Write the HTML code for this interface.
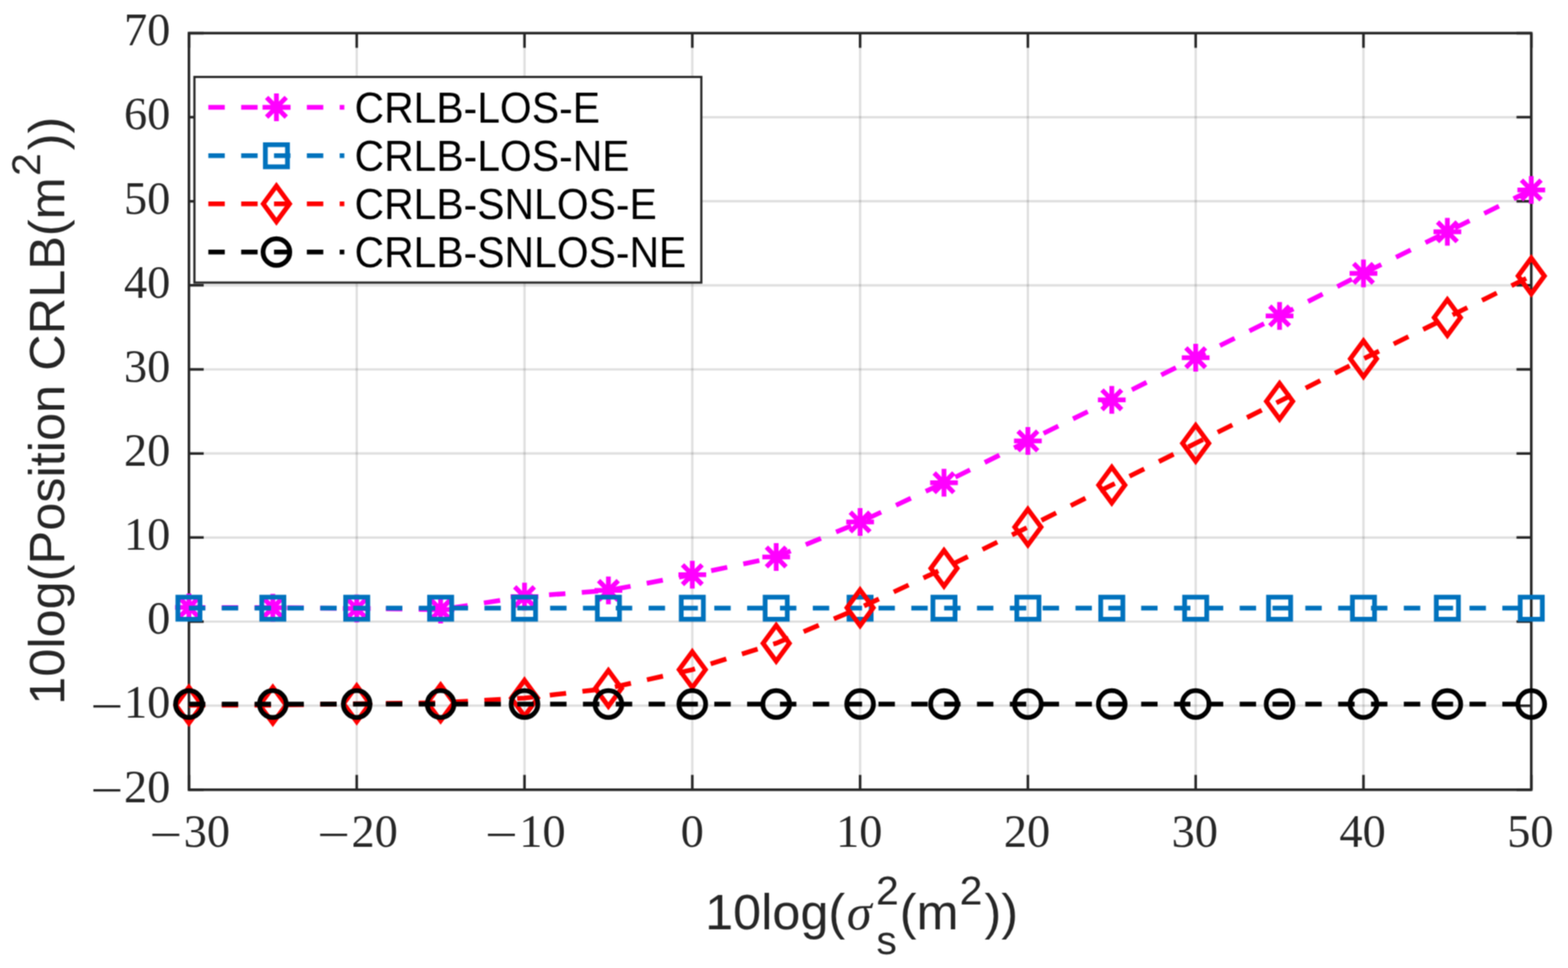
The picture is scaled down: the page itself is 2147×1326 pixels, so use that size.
<!DOCTYPE html><html><head><meta charset="utf-8"><title>CRLB plot</title><style>html,body{margin:0;padding:0;background:#fff;}svg{display:block;}</style></head><body>
<svg width="2147" height="1326" viewBox="0 0 2147 1326">
<defs><filter id="bl" x="0" y="0" width="2147" height="1326" filterUnits="userSpaceOnUse" color-interpolation-filters="sRGB"><feConvolveMatrix order="3" kernelMatrix="1 2 1 2 4 2 1 2 1" divisor="16" edgeMode="duplicate" preserveAlpha="true"/></filter></defs>
<g filter="url(#bl)">
<rect x="0" y="0" width="2147" height="1326" fill="#ffffff"/>
<path d="M258.70 45.40V1081.80" stroke="#262626" stroke-opacity="0.15" stroke-width="3.2" fill="none"/><path d="M488.45 45.40V1081.80" stroke="#262626" stroke-opacity="0.15" stroke-width="3.2" fill="none"/><path d="M718.20 45.40V1081.80" stroke="#262626" stroke-opacity="0.15" stroke-width="3.2" fill="none"/><path d="M947.95 45.40V1081.80" stroke="#262626" stroke-opacity="0.15" stroke-width="3.2" fill="none"/><path d="M1177.70 45.40V1081.80" stroke="#262626" stroke-opacity="0.15" stroke-width="3.2" fill="none"/><path d="M1407.45 45.40V1081.80" stroke="#262626" stroke-opacity="0.15" stroke-width="3.2" fill="none"/><path d="M1637.20 45.40V1081.80" stroke="#262626" stroke-opacity="0.15" stroke-width="3.2" fill="none"/><path d="M1866.95 45.40V1081.80" stroke="#262626" stroke-opacity="0.15" stroke-width="3.2" fill="none"/><path d="M2096.70 45.40V1081.80" stroke="#262626" stroke-opacity="0.15" stroke-width="3.2" fill="none"/><path d="M258.70 1081.80H2096.70" stroke="#262626" stroke-opacity="0.15" stroke-width="3.2" fill="none"/><path d="M258.70 966.64H2096.70" stroke="#262626" stroke-opacity="0.15" stroke-width="3.2" fill="none"/><path d="M258.70 851.49H2096.70" stroke="#262626" stroke-opacity="0.15" stroke-width="3.2" fill="none"/><path d="M258.70 736.33H2096.70" stroke="#262626" stroke-opacity="0.15" stroke-width="3.2" fill="none"/><path d="M258.70 621.18H2096.70" stroke="#262626" stroke-opacity="0.15" stroke-width="3.2" fill="none"/><path d="M258.70 506.02H2096.70" stroke="#262626" stroke-opacity="0.15" stroke-width="3.2" fill="none"/><path d="M258.70 390.87H2096.70" stroke="#262626" stroke-opacity="0.15" stroke-width="3.2" fill="none"/><path d="M258.70 275.71H2096.70" stroke="#262626" stroke-opacity="0.15" stroke-width="3.2" fill="none"/><path d="M258.70 160.56H2096.70" stroke="#262626" stroke-opacity="0.15" stroke-width="3.2" fill="none"/><path d="M258.70 45.40H2096.70" stroke="#262626" stroke-opacity="0.15" stroke-width="3.2" fill="none"/>
<path d="M258.70 1081.80v-20.2M258.70 45.40v20.2M488.45 1081.80v-20.2M488.45 45.40v20.2M718.20 1081.80v-20.2M718.20 45.40v20.2M947.95 1081.80v-20.2M947.95 45.40v20.2M1177.70 1081.80v-20.2M1177.70 45.40v20.2M1407.45 1081.80v-20.2M1407.45 45.40v20.2M1637.20 1081.80v-20.2M1637.20 45.40v20.2M1866.95 1081.80v-20.2M1866.95 45.40v20.2M2096.70 1081.80v-20.2M2096.70 45.40v20.2M258.70 1081.80h20.2M2096.70 1081.80h-20.2M258.70 966.64h20.2M2096.70 966.64h-20.2M258.70 851.49h20.2M2096.70 851.49h-20.2M258.70 736.33h20.2M2096.70 736.33h-20.2M258.70 621.18h20.2M2096.70 621.18h-20.2M258.70 506.02h20.2M2096.70 506.02h-20.2M258.70 390.87h20.2M2096.70 390.87h-20.2M258.70 275.71h20.2M2096.70 275.71h-20.2M258.70 160.56h20.2M2096.70 160.56h-20.2M258.70 45.40h20.2M2096.70 45.40h-20.2" stroke="#262626" stroke-width="3.5" fill="none"/>
<rect x="258.70" y="45.40" width="1838.00" height="1036.40" fill="none" stroke="#262626" stroke-width="3.5" stroke-linejoin="miter"/>
<polyline points="258.70,832.10 373.57,832.40 488.45,833.50 603.32,835.10 718.20,817.30 833.07,808.80 947.95,787.20 1062.82,763.00 1177.70,715.10 1292.57,661.30 1407.45,604.10 1522.32,547.70 1637.20,490.00 1752.07,432.80 1866.95,374.40 1981.82,317.60 2096.70,260.20" fill="none" stroke="#ff00ff" stroke-width="6.5" stroke-dasharray="22.48 22.48" stroke-linejoin="miter"/>
<path d="M239.70 832.10H277.70M258.70 813.10V851.10M245.27 818.67L272.13 845.53M245.27 845.53L272.13 818.67M354.57 832.40H392.57M373.57 813.40V851.40M360.14 818.97L387.01 845.83M360.14 845.83L387.01 818.97M469.45 833.50H507.45M488.45 814.50V852.50M475.02 820.07L501.88 846.93M475.02 846.93L501.88 820.07M584.32 835.10H622.32M603.32 816.10V854.10M589.89 821.67L616.76 848.53M589.89 848.53L616.76 821.67M699.20 817.30H737.20M718.20 798.30V836.30M704.77 803.87L731.63 830.73M704.77 830.73L731.63 803.87M814.07 808.80H852.07M833.07 789.80V827.80M819.64 795.37L846.51 822.23M819.64 822.23L846.51 795.37M928.95 787.20H966.95M947.95 768.20V806.20M934.52 773.77L961.38 800.63M934.52 800.63L961.38 773.77M1043.82 763.00H1081.82M1062.82 744.00V782.00M1049.39 749.57L1076.26 776.43M1049.39 776.43L1076.26 749.57M1158.70 715.10H1196.70M1177.70 696.10V734.10M1164.27 701.67L1191.13 728.53M1164.27 728.53L1191.13 701.67M1273.57 661.30H1311.57M1292.57 642.30V680.30M1279.14 647.87L1306.01 674.73M1279.14 674.73L1306.01 647.87M1388.45 604.10H1426.45M1407.45 585.10V623.10M1394.02 590.67L1420.88 617.53M1394.02 617.53L1420.88 590.67M1503.32 547.70H1541.32M1522.32 528.70V566.70M1508.89 534.27L1535.76 561.13M1508.89 561.13L1535.76 534.27M1618.20 490.00H1656.20M1637.20 471.00V509.00M1623.77 476.57L1650.63 503.43M1623.77 503.43L1650.63 476.57M1733.07 432.80H1771.07M1752.07 413.80V451.80M1738.64 419.37L1765.51 446.23M1738.64 446.23L1765.51 419.37M1847.95 374.40H1885.95M1866.95 355.40V393.40M1853.52 360.97L1880.38 387.83M1853.52 387.83L1880.38 360.97M1962.82 317.60H2000.82M1981.82 298.60V336.60M1968.39 304.17L1995.26 331.03M1968.39 331.03L1995.26 304.17M2077.70 260.20H2115.70M2096.70 241.20V279.20M2083.27 246.77L2110.13 273.63M2083.27 273.63L2110.13 246.77" fill="none" stroke="#ff00ff" stroke-width="6.5" stroke-linecap="butt" stroke-linejoin="miter" stroke-miterlimit="10"/>
<polyline points="258.70,833.10 373.57,833.10 488.45,833.10 603.32,833.10 718.20,833.10 833.07,833.10 947.95,833.10 1062.82,833.10 1177.70,833.10 1292.57,833.10 1407.45,833.10 1522.32,833.10 1637.20,833.10 1752.07,833.10 1866.95,833.10 1981.82,833.10 2096.70,833.10" fill="none" stroke="#0072bd" stroke-width="6.5" stroke-dasharray="22.48 22.48" stroke-linejoin="miter"/>
<path d="M243.55 817.95H273.85V848.25H243.55ZM358.42 817.95H388.72V848.25H358.42ZM473.30 817.95H503.60V848.25H473.30ZM588.17 817.95H618.47V848.25H588.17ZM703.05 817.95H733.35V848.25H703.05ZM817.92 817.95H848.22V848.25H817.92ZM932.80 817.95H963.10V848.25H932.80ZM1047.67 817.95H1077.97V848.25H1047.67ZM1162.55 817.95H1192.85V848.25H1162.55ZM1277.42 817.95H1307.72V848.25H1277.42ZM1392.30 817.95H1422.60V848.25H1392.30ZM1507.17 817.95H1537.47V848.25H1507.17ZM1622.05 817.95H1652.35V848.25H1622.05ZM1736.92 817.95H1767.22V848.25H1736.92ZM1851.80 817.95H1882.10V848.25H1851.80ZM1966.67 817.95H1996.97V848.25H1966.67ZM2081.55 817.95H2111.85V848.25H2081.55Z" fill="none" stroke="#0072bd" stroke-width="6.5" stroke-linecap="butt" stroke-linejoin="miter" stroke-miterlimit="10"/>
<polyline points="258.70,966.00 373.57,965.90 488.45,963.90 603.32,962.70 718.20,956.30 833.07,942.90 947.95,917.30 1062.82,881.20 1177.70,832.60 1292.57,778.50 1407.45,722.10 1522.32,664.40 1637.20,607.20 1752.07,549.70 1866.95,491.50 1981.82,434.90 2096.70,378.00" fill="none" stroke="#ff0000" stroke-width="6.5" stroke-dasharray="22.48 22.48" stroke-linejoin="miter"/>
<path d="M258.70 941.50L276.70 966.00L258.70 990.50L240.70 966.00ZM373.57 941.40L391.57 965.90L373.57 990.40L355.57 965.90ZM488.45 939.40L506.45 963.90L488.45 988.40L470.45 963.90ZM603.32 938.20L621.32 962.70L603.32 987.20L585.32 962.70ZM718.20 931.80L736.20 956.30L718.20 980.80L700.20 956.30ZM833.07 918.40L851.07 942.90L833.07 967.40L815.07 942.90ZM947.95 892.80L965.95 917.30L947.95 941.80L929.95 917.30ZM1062.82 856.70L1080.82 881.20L1062.82 905.70L1044.82 881.20ZM1177.70 808.10L1195.70 832.60L1177.70 857.10L1159.70 832.60ZM1292.57 754.00L1310.57 778.50L1292.57 803.00L1274.57 778.50ZM1407.45 697.60L1425.45 722.10L1407.45 746.60L1389.45 722.10ZM1522.32 639.90L1540.32 664.40L1522.32 688.90L1504.32 664.40ZM1637.20 582.70L1655.20 607.20L1637.20 631.70L1619.20 607.20ZM1752.07 525.20L1770.07 549.70L1752.07 574.20L1734.07 549.70ZM1866.95 467.00L1884.95 491.50L1866.95 516.00L1848.95 491.50ZM1981.82 410.40L1999.82 434.90L1981.82 459.40L1963.82 434.90ZM2096.70 353.50L2114.70 378.00L2096.70 402.50L2078.70 378.00Z" fill="none" stroke="#ff0000" stroke-width="6.5" stroke-linecap="butt" stroke-linejoin="miter" stroke-miterlimit="10"/>
<polyline points="258.70,964.40 373.57,964.40 488.45,964.40 603.32,964.40 718.20,964.40 833.07,964.40 947.95,964.40 1062.82,964.40 1177.70,964.40 1292.57,964.40 1407.45,964.40 1522.32,964.40 1637.20,964.40 1752.07,964.40 1866.95,964.40 1981.82,964.40 2096.70,964.40" fill="none" stroke="#000000" stroke-width="6.5" stroke-dasharray="22.48 22.48" stroke-linejoin="miter"/>
<path d="M240.40 964.40a18.3 18.3 0 1 0 36.6 0a18.3 18.3 0 1 0 -36.6 0ZM355.27 964.40a18.3 18.3 0 1 0 36.6 0a18.3 18.3 0 1 0 -36.6 0ZM470.15 964.40a18.3 18.3 0 1 0 36.6 0a18.3 18.3 0 1 0 -36.6 0ZM585.02 964.40a18.3 18.3 0 1 0 36.6 0a18.3 18.3 0 1 0 -36.6 0ZM699.90 964.40a18.3 18.3 0 1 0 36.6 0a18.3 18.3 0 1 0 -36.6 0ZM814.77 964.40a18.3 18.3 0 1 0 36.6 0a18.3 18.3 0 1 0 -36.6 0ZM929.65 964.40a18.3 18.3 0 1 0 36.6 0a18.3 18.3 0 1 0 -36.6 0ZM1044.52 964.40a18.3 18.3 0 1 0 36.6 0a18.3 18.3 0 1 0 -36.6 0ZM1159.40 964.40a18.3 18.3 0 1 0 36.6 0a18.3 18.3 0 1 0 -36.6 0ZM1274.27 964.40a18.3 18.3 0 1 0 36.6 0a18.3 18.3 0 1 0 -36.6 0ZM1389.15 964.40a18.3 18.3 0 1 0 36.6 0a18.3 18.3 0 1 0 -36.6 0ZM1504.02 964.40a18.3 18.3 0 1 0 36.6 0a18.3 18.3 0 1 0 -36.6 0ZM1618.90 964.40a18.3 18.3 0 1 0 36.6 0a18.3 18.3 0 1 0 -36.6 0ZM1733.77 964.40a18.3 18.3 0 1 0 36.6 0a18.3 18.3 0 1 0 -36.6 0ZM1848.65 964.40a18.3 18.3 0 1 0 36.6 0a18.3 18.3 0 1 0 -36.6 0ZM1963.52 964.40a18.3 18.3 0 1 0 36.6 0a18.3 18.3 0 1 0 -36.6 0ZM2078.40 964.40a18.3 18.3 0 1 0 36.6 0a18.3 18.3 0 1 0 -36.6 0Z" fill="none" stroke="#000000" stroke-width="6.5" stroke-linecap="butt" stroke-linejoin="miter" stroke-miterlimit="10"/>
<text transform="translate(227.20 1165.10) scale(1.25 1)" text-anchor="middle" font-family="Liberation Serif, serif" font-size="63.5" fill="#262626">−</text><text x="283.20" y="1159.6" text-anchor="middle" font-family="Liberation Serif, serif" font-size="63.5" fill="#262626">30</text><text transform="translate(456.95 1165.10) scale(1.25 1)" text-anchor="middle" font-family="Liberation Serif, serif" font-size="63.5" fill="#262626">−</text><text x="512.95" y="1159.6" text-anchor="middle" font-family="Liberation Serif, serif" font-size="63.5" fill="#262626">20</text><text transform="translate(686.70 1165.10) scale(1.25 1)" text-anchor="middle" font-family="Liberation Serif, serif" font-size="63.5" fill="#262626">−</text><text x="742.70" y="1159.6" text-anchor="middle" font-family="Liberation Serif, serif" font-size="63.5" fill="#262626">10</text><text x="947.95" y="1159.6" text-anchor="middle" font-family="Liberation Serif, serif" font-size="63.5" fill="#262626">0</text><text x="1176.50" y="1159.6" text-anchor="middle" font-family="Liberation Serif, serif" font-size="63.5" fill="#262626">10</text><text x="1406.25" y="1159.6" text-anchor="middle" font-family="Liberation Serif, serif" font-size="63.5" fill="#262626">20</text><text x="1636.00" y="1159.6" text-anchor="middle" font-family="Liberation Serif, serif" font-size="63.5" fill="#262626">30</text><text x="1865.75" y="1159.6" text-anchor="middle" font-family="Liberation Serif, serif" font-size="63.5" fill="#262626">40</text><text x="2095.50" y="1159.6" text-anchor="middle" font-family="Liberation Serif, serif" font-size="63.5" fill="#262626">50</text><text transform="translate(146.30 1104.10) scale(1.25 1)" text-anchor="middle" font-family="Liberation Serif, serif" font-size="63.5" fill="#262626">−</text><text x="233.3" y="1098.60" text-anchor="end" font-family="Liberation Serif, serif" font-size="63.5" fill="#262626">20</text><text transform="translate(146.30 988.94) scale(1.25 1)" text-anchor="middle" font-family="Liberation Serif, serif" font-size="63.5" fill="#262626">−</text><text x="233.3" y="983.44" text-anchor="end" font-family="Liberation Serif, serif" font-size="63.5" fill="#262626">10</text><text x="233.3" y="868.29" text-anchor="end" font-family="Liberation Serif, serif" font-size="63.5" fill="#262626">0</text><text x="233.3" y="753.13" text-anchor="end" font-family="Liberation Serif, serif" font-size="63.5" fill="#262626">10</text><text x="233.3" y="637.98" text-anchor="end" font-family="Liberation Serif, serif" font-size="63.5" fill="#262626">20</text><text x="233.3" y="522.82" text-anchor="end" font-family="Liberation Serif, serif" font-size="63.5" fill="#262626">30</text><text x="233.3" y="407.67" text-anchor="end" font-family="Liberation Serif, serif" font-size="63.5" fill="#262626">40</text><text x="233.3" y="292.51" text-anchor="end" font-family="Liberation Serif, serif" font-size="63.5" fill="#262626">50</text><text x="233.3" y="177.36" text-anchor="end" font-family="Liberation Serif, serif" font-size="63.5" fill="#262626">60</text><text x="233.3" y="62.20" text-anchor="end" font-family="Liberation Serif, serif" font-size="63.5" fill="#262626">70</text>
<text transform="translate(87.8 965.5) rotate(-90) scale(1.0025 1)" font-family="Liberation Sans, Arial, sans-serif" font-size="69" fill="#262626">10log(Position CRLB(m</text>
<text transform="translate(54.5 241.0) rotate(-90)" font-family="Liberation Sans, Arial, sans-serif" font-size="56" fill="#262626">2</text>
<text transform="translate(87.8 206.0) rotate(-90)" font-family="Liberation Sans, Arial, sans-serif" font-size="69" fill="#262626">))</text>
<text x="965.5" y="1272.9" font-family="Liberation Sans, Arial, sans-serif" font-size="69" fill="#262626">10log(</text>
<text x="1159.5" y="1272.9" font-family="Liberation Serif, serif" font-style="italic" font-size="69" fill="#262626">σ</text>
<text x="1199.5" y="1238.6" font-family="Liberation Sans, Arial, sans-serif" font-size="56" fill="#262626">2</text>
<text x="1200" y="1307" font-family="Liberation Sans, Arial, sans-serif" font-size="56" fill="#262626">s</text>
<text x="1232" y="1272.9" font-family="Liberation Sans, Arial, sans-serif" font-size="69" fill="#262626">(m</text>
<text x="1314" y="1238.6" font-family="Liberation Sans, Arial, sans-serif" font-size="56" fill="#262626">2</text>
<text x="1348" y="1272.9" font-family="Liberation Sans, Arial, sans-serif" font-size="69" fill="#262626">))</text>
<rect x="266.2" y="105.4" width="694.10" height="281.70" fill="#ffffff" stroke="#262626" stroke-width="3.0"/>
<path d="M285.3 146.9H471.5" stroke="#ff00ff" stroke-width="6.5" stroke-dasharray="22.48 22.48" fill="none"/>
<path d="M359.50 146.90H397.50M378.50 127.90V165.90M365.07 133.47L391.93 160.33M365.07 160.33L391.93 133.47" fill="none" stroke="#ff00ff" stroke-width="6.5" stroke-linecap="butt" stroke-miterlimit="10"/>
<text transform="translate(485.5 167.7) scale(1 1.055)" font-family="Liberation Sans, Arial, sans-serif" font-size="56" fill="#000000">CRLB-LOS-E</text>
<path d="M285.3 213.3H471.5" stroke="#0072bd" stroke-width="6.5" stroke-dasharray="22.48 22.48" fill="none"/>
<path d="M363.35 198.15H393.65V228.45H363.35Z" fill="none" stroke="#0072bd" stroke-width="6.5" stroke-linecap="butt" stroke-miterlimit="10"/>
<text transform="translate(485.5 234.1) scale(1 1.055)" font-family="Liberation Sans, Arial, sans-serif" font-size="56" fill="#000000">CRLB-LOS-NE</text>
<path d="M285.3 279.2H471.5" stroke="#ff0000" stroke-width="6.5" stroke-dasharray="22.48 22.48" fill="none"/>
<path d="M378.50 254.70L396.50 279.20L378.50 303.70L360.50 279.20Z" fill="none" stroke="#ff0000" stroke-width="6.5" stroke-linecap="butt" stroke-miterlimit="10"/>
<text transform="translate(485.5 300.0) scale(1 1.055)" font-family="Liberation Sans, Arial, sans-serif" font-size="56" fill="#000000">CRLB-SNLOS-E</text>
<path d="M285.3 345.2H471.5" stroke="#000000" stroke-width="6.5" stroke-dasharray="22.48 22.48" fill="none"/>
<path d="M360.20 345.20a18.3 18.3 0 1 0 36.6 0a18.3 18.3 0 1 0 -36.6 0Z" fill="none" stroke="#000000" stroke-width="6.5" stroke-linecap="butt" stroke-miterlimit="10"/>
<text transform="translate(485.5 366.0) scale(1 1.055)" font-family="Liberation Sans, Arial, sans-serif" font-size="56" fill="#000000">CRLB-SNLOS-NE</text>
</g></svg></body></html>
